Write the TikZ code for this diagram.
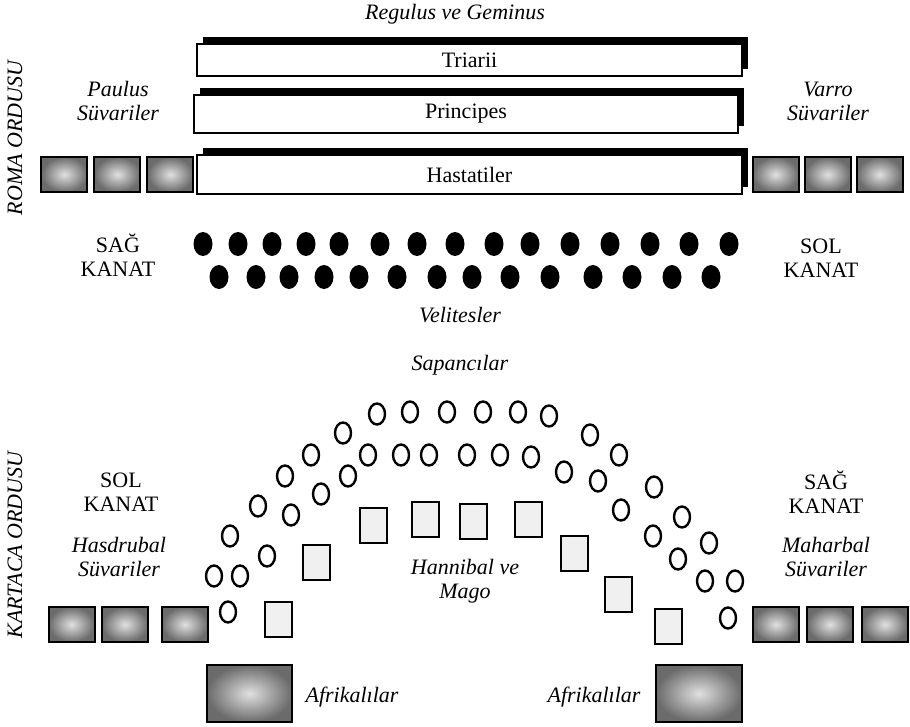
\documentclass[tikz,border=0pt]{standalone}
\usepackage{fontspec}
\setmainfont{Liberation Serif}
\usetikzlibrary{positioning, shadows, shapes.geometric}

\begin{document}
\begin{tikzpicture}[x=1pt,y=-1pt,font=\fontsize{22}{24}\selectfont]
		\tikzstyle{rank}=[draw, line width=1.2pt, fill=white, minimum width=545pt,
			drop shadow={shadow xshift=5.5pt, shadow yshift=6.5pt, fill=black, opacity=1}]
		\tikzstyle{cavalry}=[draw, line width=2pt, inner color=black!12, outer color=black!58,
			minimum width=46pt, minimum height=35pt, inner sep=0pt]
		\tikzstyle{infantry}=[draw, line width=2pt, fill=black!6, minimum width=27pt, minimum height=35pt, inner sep=0pt]
		\tikzstyle{velite}=[ellipse, fill=black, minimum width=19pt, minimum height=24pt, inner sep=0pt]
		\tikzstyle{slinger}=[ellipse, draw, line width=2.4pt, minimum width=16pt, minimum height=21pt, inner sep=0pt]
		\tikzstyle{note}=[align=center, font=\fontsize{22}{24}\selectfont\itshape]
		\tikzstyle{wing}=[align=center]
		\tikzstyle{army}=[rotate=90, font=\fontsize{22}{24}\selectfont\itshape]
		
		\useasboundingbox (0,0) rectangle (910,727);
		
		% Roma ordusu
		\node[note] (regulus) at (455,14) {Regulus ve Geminus};
		\node[rank, minimum height=32pt] (triarii) at (469.5,60) {Triarii};
		\node[rank, minimum height=38pt, minimum width=544pt] (principes) at (466,114) {Principes};
		\node[rank, minimum height=39pt] (hastatiler) at (469.5,174.5) {Hastatiler};
		
		\node[cavalry] (rc3) [left=2pt of hastatiler] {};
		\node[cavalry] (rc2) [left=5pt of rc3] {};
		\node[cavalry] (rc1) [left=5pt of rc2] {};
		\node[cavalry] (rc4) [right=9pt of hastatiler] {};
		\node[cavalry] (rc5) [right=4pt of rc4] {};
		\node[cavalry] (rc6) [right=4pt of rc5] {};
		
		\node[note] (paulus) at (118,101) {Paulus\\Süvariler};
		\node[note] (varro) at (828,101) {Varro\\Süvariler};
		\node[wing] (rsag) at (118,255) {SAĞ\\KANAT};
		\node[wing] (rsol) at (821,258) {SOL\\KANAT};
		\node[army] (roma) at (15,138) {ROMA ORDUSU};
		
		\foreach \x [count=\i] in {203,238,272,306,339,380,417,455,494,530,570,610,650,689,729}
			\node[velite] (va\i) at (\x,244) {};
		\foreach \x [count=\i] in {219,256,289,324,359,397,437,472,510,550,593,632,672,711}
			\node[velite] (vb\i) at (\x,277) {};
		\node[note] (velites) at (460,315) {Velitesler};
		
		% Kartaca ordusu
		\node[note] (sapancilar) at (460,365) {Sapancılar};
		\foreach \x/\y [count=\i] in {377/414, 410/412, 447/412, 483/412, 518/412, 549/416,
				343/433, 590/435, 311/455, 368/455, 401/455, 429/455, 467/455, 500/455, 531/457, 619/455,
				285/476, 348/476, 564/472, 598/481, 654/487, 321/494, 258/506, 621/510, 291/515, 682/517,
				230/536, 653/536, 709/543, 267/556, 678/559, 214/576, 240/576, 705/581, 735/581,
				228/612, 728/618}
			\node[slinger] (s\i) at (\x,\y) {};
		
		\foreach \x/\y [count=\i] in {278.5/619.5, 316/562.5, 373.5/525, 425/519.5, 473.5/521.5,
				528/519.5, 574/553.5, 618/594.5, 668.5/626.5}
			\node[infantry] (i\i) at (\x,\y) {};
		
		\node[cavalry] (kc1) at (71.5,624.5) {};
		\node[cavalry] (kc2) at (125,624.5) {};
		\node[cavalry] (kc3) at (185,624.5) {};
		\node[cavalry] (kc4) at (776,624.5) {};
		\node[cavalry] (kc5) at (830,624.5) {};
		\node[cavalry] (kc6) at (885,624.5) {};
		
		\node[cavalry, minimum width=85pt, minimum height=57pt] (afr1) at (249.5,693.5) {};
		\node[cavalry, minimum width=86pt, minimum height=57pt] (afr2) at (699,693.5) {};
		\node[note] (afrl1) at (352,697) {Afrikalılar};
		\node[note] (afrl2) at (594,697) {Afrikalılar};
		
		\node[wing] (ksol) at (121,492) {SOL\\KANAT};
		\node[note] (hasdrubal) at (119,557) {Hasdrubal\\Süvariler};
		\node[wing] (ksag) at (826,492) {SAĞ\\KANAT};
		\node[note] (maharbal) at (826,557) {Maharbal\\Süvariler};
		\node[note] (hannibal) at (465,581) {Hannibal ve\\Mago};
		\node[army] (kartaca) at (15,545) {KARTACA ORDUSU};
\end{tikzpicture}
\end{document}
